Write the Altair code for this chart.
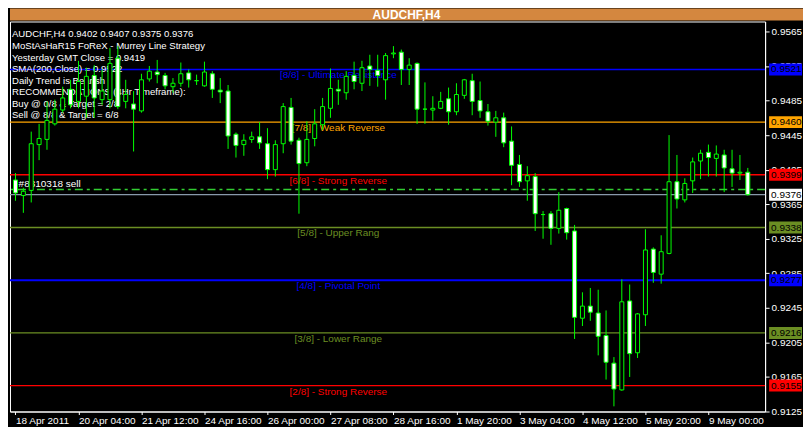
import altair as alt
import pandas as pd

# ---------------- data ----------------
opens = [0.9393, 0.9375, 0.9381, 0.9434, 0.9440, 0.9458, 0.9474, 0.9498, 0.9484, 0.9490,
         0.9514, 0.9486, 0.9486, 0.9534, 0.9484, 0.9481, 0.9473, 0.9510, 0.9518, 0.9514,
         0.9501, 0.9505, 0.9517, 0.9508, 0.9502, 0.9516, 0.9497, 0.9496, 0.9446, 0.9434,
         0.9440, 0.9443, 0.9435, 0.9405, 0.9435, 0.9477, 0.9439, 0.9413, 0.9441, 0.9457,
         0.9476, 0.9498, 0.9494, 0.9514, 0.9505, 0.9525, 0.9520, 0.9509, 0.9539, 0.9541,
         0.9521, 0.9528, 0.9475, 0.9474, 0.9476, 0.9487, 0.9472, 0.9491, 0.9508, 0.9485,
         0.9472, 0.9460, 0.9465, 0.9438, 0.9411, 0.9392, 0.9397, 0.9353, 0.9354, 0.9337,
         0.9360, 0.9334, 0.9233, 0.9247, 0.9239, 0.9213, 0.9181, 0.9150, 0.9253, 0.9193,
         0.9237, 0.9313, 0.9284, 0.9308, 0.9391, 0.9370, 0.9392, 0.9415, 0.9425, 0.9418,
         0.9422, 0.9406, 0.9401, 0.9402]
highs = [0.9401, 0.9384, 0.9449, 0.9458, 0.9484, 0.9486, 0.9501, 0.9509, 0.9531, 0.9523,
         0.9526, 0.9521, 0.9546, 0.9548, 0.9509, 0.9496, 0.9516, 0.9525, 0.9532, 0.9517,
         0.9511, 0.9529, 0.9521, 0.9515, 0.9530, 0.9519, 0.9511, 0.9503, 0.9448, 0.9446,
         0.9449, 0.9460, 0.9453, 0.9439, 0.9482, 0.9488, 0.9442, 0.9461, 0.9475, 0.9488,
         0.9522, 0.9509, 0.9519, 0.9530, 0.9531, 0.9538, 0.9538, 0.9540, 0.9548, 0.9544,
         0.9534, 0.9529, 0.9506, 0.9490, 0.9495, 0.9500, 0.9505, 0.9510, 0.9516, 0.9507,
         0.9481, 0.9473, 0.9471, 0.9455, 0.9422, 0.9409, 0.9401, 0.9357, 0.9357, 0.9379,
         0.9361, 0.9341, 0.9263, 0.9268, 0.9266, 0.9242, 0.9188, 0.9278, 0.9272, 0.9239,
         0.9336, 0.9315, 0.9329, 0.9445, 0.9422, 0.9395, 0.9419, 0.9428, 0.9434, 0.9433,
         0.9428, 0.9428, 0.9422, 0.9407]
lows = [0.9369, 0.9355, 0.9367, 0.9416, 0.9428, 0.9456, 0.9471, 0.9476, 0.9476, 0.9465,
        0.9465, 0.9480, 0.9476, 0.9475, 0.9476, 0.9426, 0.9471, 0.9507, 0.9505, 0.9498,
        0.9494, 0.9501, 0.9500, 0.9503, 0.9501, 0.9488, 0.9482, 0.9429, 0.9419, 0.9421,
        0.9436, 0.9429, 0.9394, 0.9397, 0.9424, 0.9434, 0.9354, 0.9409, 0.9432, 0.9451,
        0.9465, 0.9480, 0.9486, 0.9498, 0.9496, 0.9502, 0.9501, 0.9486, 0.9534, 0.9503,
        0.9503, 0.9458, 0.9458, 0.9462, 0.9475, 0.9457, 0.9468, 0.9487, 0.9468, 0.9465,
        0.9456, 0.9443, 0.9431, 0.9387, 0.9385, 0.9369, 0.9334, 0.9325, 0.9318, 0.9331,
        0.9324, 0.9209, 0.9224, 0.9230, 0.9190, 0.9162, 0.9131, 0.9149, 0.9165, 0.9187,
        0.9224, 0.9274, 0.9273, 0.9307, 0.9360, 0.9367, 0.9378, 0.9394, 0.9397, 0.9397,
        0.9379, 0.9385, 0.9393, 0.9375]
closes = [0.9378, 0.9380, 0.9435, 0.9441, 0.9462, 0.9475, 0.9488, 0.9480, 0.9507, 0.9513,
          0.9488, 0.9496, 0.9528, 0.9478, 0.9492, 0.9475, 0.9509, 0.9519, 0.9515, 0.9502,
          0.9505, 0.9516, 0.9509, 0.9508, 0.9518, 0.9498, 0.9495, 0.9444, 0.9433, 0.9439,
          0.9443, 0.9436, 0.9405, 0.9434, 0.9478, 0.9438, 0.9412, 0.9440, 0.9458, 0.9478,
          0.9499, 0.9496, 0.9513, 0.9507, 0.9523, 0.9521, 0.9514, 0.9537, 0.9540, 0.9521,
          0.9526, 0.9475, 0.9475, 0.9476, 0.9484, 0.9472, 0.9492, 0.9509, 0.9484, 0.9473,
          0.9461, 0.9465, 0.9436, 0.9410, 0.9391, 0.9398, 0.9354, 0.9353, 0.9337, 0.9358,
          0.9332, 0.9234, 0.9247, 0.9240, 0.9212, 0.9182, 0.9151, 0.9252, 0.9192, 0.9238,
          0.9312, 0.9286, 0.9310, 0.9391, 0.9371, 0.9389, 0.9414, 0.9424, 0.9419, 0.9423,
          0.9407, 0.9401, 0.9402, 0.9376]

time_labels = ["18 Apr 2011", "20 Apr 04:00", "21 Apr 12:00", "24 Apr 16:00",
               "26 Apr 00:00", "27 Apr 08:00", "28 Apr 16:00", "1 May 20:00",
               "3 May 04:00", "4 May 12:00", "5 May 20:00", "9 May 00:00"]
label_step = 8  # bars between time labels

price_ticks = [0.9125, 0.9165, 0.9205, 0.9245, 0.9285, 0.9325,
               0.9365, 0.9405, 0.9445, 0.9485, 0.9525, 0.9565]

level_names = ["[8/8] - Ultimate Resistance", "[7/8] - Weak Reverse",
               "[6/8] - Strong Reverse", "[5/8] - Upper Rang",
               "[4/8] - Pivotal Point", "[3/8] - Lower Range",
               "[2/8] - Strong Reverse"]
level_prices = [0.9521, 0.9460, 0.9399, 0.9338, 0.9277, 0.9216, 0.9155]
level_label_bar = 41

bid_price = 0.9376
order_price = 0.9382
order_label = "#8310318 sell"
order_label_bar = 0.4

box_prices = [0.9521, 0.9460, 0.9399, 0.9376, 0.9338, 0.9277, 0.9216, 0.9155]

info_lines = [
    "AUDCHF,H4  0.9402 0.9407 0.9375 0.9376",
    "MoStAsHaR15 FoReX - Murrey Line Strategy",
    "Yesterday GMT Close = 0.9419",
    "SMA(200,Close) = 0.9522",
    "Daily Trend is Bearish",
    "RECOMMENDATIONS (4Hr Timeframe):",
    "Buy  @ 0/8 & Target = 2/8",
    "Sell @ 8/8 & Target = 6/8",
]
window_title = "AUDCHF,H4"

# ---------------- styles ----------------
level_colors = ["#0000FF", "#FFA500", "#FF0000", "#6B8E23", "#0000FF", "#6B8E23", "#FF0000"]
level_widths = [1.4, 1.4, 1.4, 1.4, 2, 1.4, 1.4]
box_colors = ["#0000FF", "#FFA500", "#FF0000", "#FFFFFF", "#6B8E23", "#0000FF", "#6B8E23", "#FF0000"]
LIME = "#00FF00"
FONT = "Liberation Sans"
W, H = 757, 391

# ---------------- tables ----------------
candles = pd.DataFrame({"bar": range(len(opens)), "open": opens, "high": highs,
                        "low": lows, "close": closes})
candles["body"] = ["#FFFFFF" if c < o else "#000000" for o, c in zip(opens, closes)]
levels = pd.DataFrame({"name": level_names, "p": level_prices,
                       "bar": [level_label_bar] * len(level_names),
                       "col": level_colors, "w": level_widths})
boxes = pd.DataFrame({"p": box_prices, "col": box_colors,
                      "txt": [f"{v:.4f}" for v in box_prices]})

xscale = alt.Scale(domain=[-0.0625, -0.0625 + W / 8], nice=False, zero=False)
yscale = alt.Scale(domain=[0.9125, 0.95765], nice=False, zero=False)

label_expr = "[" + ",".join(f"'{s}'" for s in time_labels) + f"][round(datum.value / {label_step})]"
xaxis = alt.Axis(values=list(range(0, len(time_labels) * label_step, label_step)),
                 labelExpr=label_expr, labelAlign="left", labelFlush=False,
                 labelOverlap=False, labelBound=False,
                 labelColor="white", labelFont=FONT, labelFontSize=10, labelPadding=1,
                 tickColor="white", tickSize=3, domainColor="white", grid=False, title=None)
yaxis = alt.Axis(orient="right", values=price_ticks, format=".4f",
                 labelColor="white", labelFont=FONT, labelFontSize=10, labelPadding=2,
                 tickColor="white", tickSize=4, domainColor="white", grid=False, title=None)


def X(field):
    return alt.X(field, type="quantitative", scale=xscale, axis=xaxis)


def Y(field):
    return alt.Y(field, type="quantitative", scale=yscale, axis=yaxis)


level_lines = alt.Chart(levels).mark_rule().encode(
    y=Y("p"),
    color=alt.Color("col:N", scale=None),
    strokeWidth=alt.StrokeWidth("w:Q", scale=None),
)
level_text = alt.Chart(levels).mark_text(align="center", baseline="top", dy=1,
                                         font=FONT, fontSize=10).encode(
    x=X("bar"), y=Y("p"), text="name:N",
    color=alt.Color("col:N", scale=None),
)
bid_line = alt.Chart(pd.DataFrame({"p": [bid_price]})).mark_rule(
    color="#8899AA", strokeWidth=1.3).encode(y=Y("p"))
order_line = alt.Chart(pd.DataFrame({"p": [order_price]})).mark_rule(
    color="#32CD32", strokeWidth=1.3, strokeDash=[8, 4, 3, 4]).encode(y=Y("p"))
order_text = alt.Chart(pd.DataFrame({"p": [order_price], "bar": [order_label_bar],
                                     "t": [order_label]})).mark_text(
    align="left", baseline="bottom", dy=-1, color="white", font=FONT, fontSize=10).encode(
    x=X("bar"), y=Y("p"), text="t:N")
info = alt.Chart(pd.DataFrame({"t": ["\n".join(info_lines)]})).mark_text(
    align="left", baseline="top", lineBreak="\n", lineHeight=11.6,
    color="white", font=FONT, fontSize=9.6).encode(
    x=alt.value(2), y=alt.value(8), text="t:N")

wicks = alt.Chart(candles).mark_rule(color=LIME, strokeWidth=1, clip=True).encode(
    x=X("bar"), y=Y("low"), y2="high")
bodies = alt.Chart(candles).mark_bar(size=4, stroke=LIME, strokeWidth=1, clip=True).encode(
    x=X("bar"), y=Y("open"), y2="close",
    fill=alt.Fill("body:N", scale=None),
)

box_rects = alt.Chart(boxes).mark_tick(thickness=12, size=33, opacity=1).encode(
    x=alt.value(W + 20.5), y=Y("p"),
    color=alt.Color("col:N", scale=None),
)
box_text = alt.Chart(boxes).mark_text(align="left", baseline="middle", color="black",
                                      font=FONT, fontSize=10).encode(
    x=alt.value(W + 6), y=Y("p"), text="txt:N")

main = alt.layer(level_lines, bid_line, order_line, level_text, info, order_text,
                 wicks, bodies, box_rects, box_text).properties(
    width=W, height=H,
    view=alt.ViewBackground(fill="#000000", stroke="#FFFFFF", strokeWidth=1),
)

top = alt.Chart(pd.DataFrame({"t": [window_title]})).mark_text(
    color="white", fontWeight="bold", fontSize=12, font=FONT).encode(text="t:N").properties(
    width=795, height=12,
    view=alt.ViewBackground(fill="#D4873F", strokeWidth=0),
)

chart = alt.vconcat(top, main, spacing=0).properties(padding=0, background="#000000")

chart.save("out.html", embed_options={"renderer": "svg", "actions": False})
